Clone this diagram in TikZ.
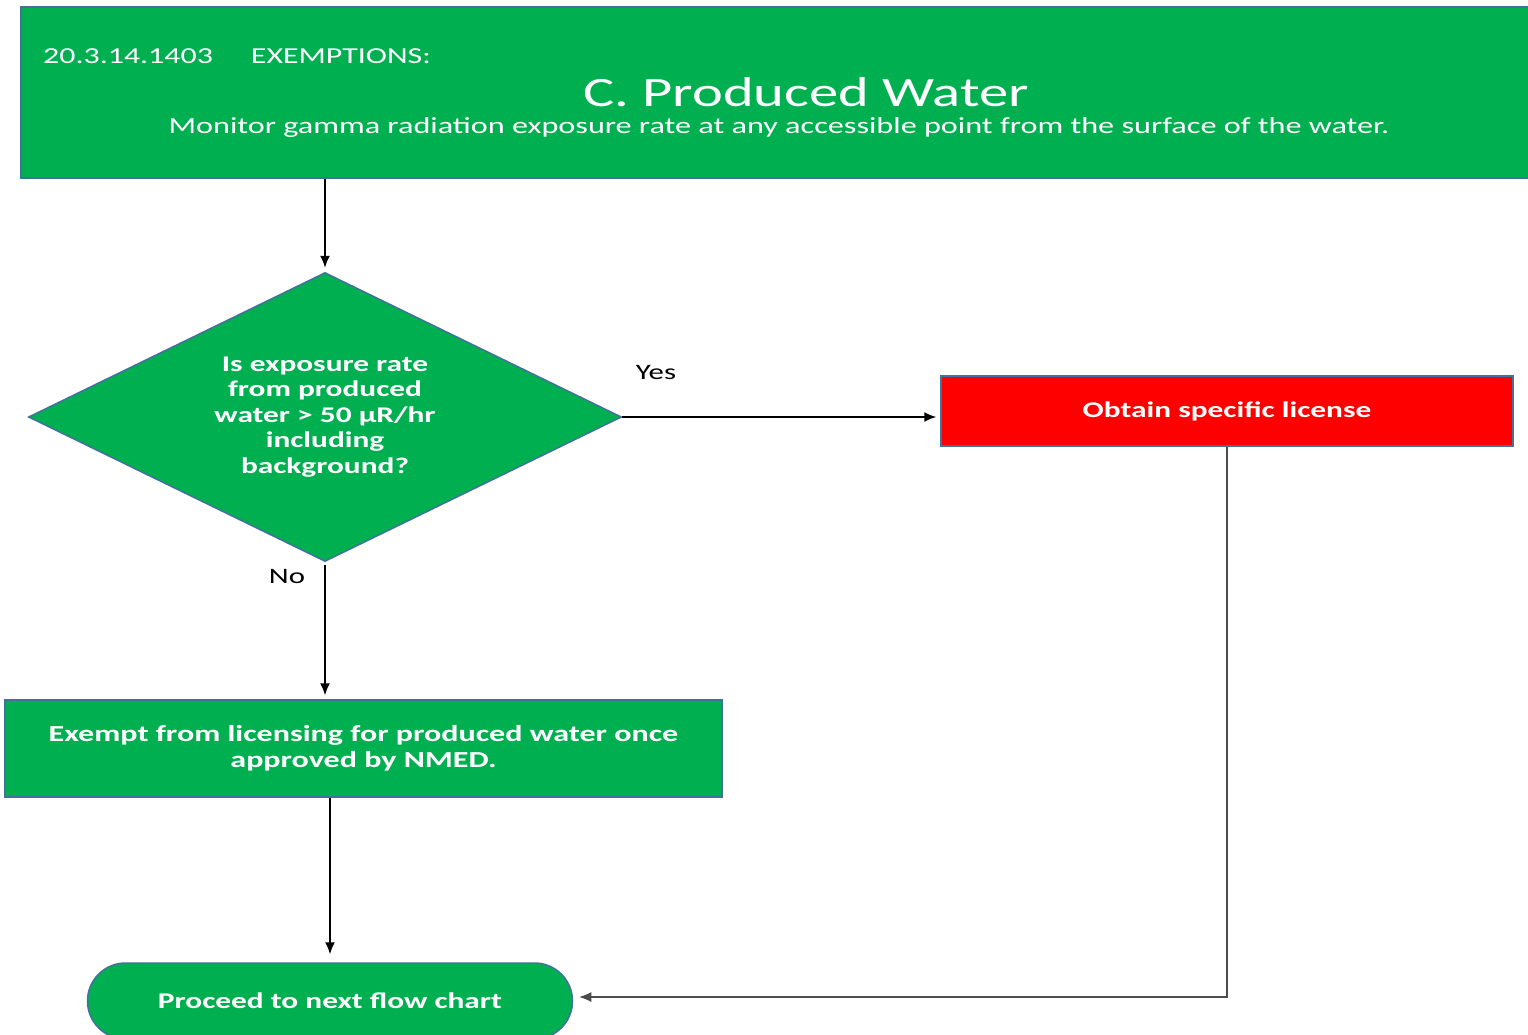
\documentclass[tikz,border=0pt]{standalone}
\usepackage{fontspec}
\setmainfont[FakeStretch=1.4]{Carlito}
\usetikzlibrary{shapes.geometric,arrows.meta}
\definecolor{gfill}{HTML}{00B050}
\definecolor{rfill}{HTML}{FF0000}
\definecolor{bord}{HTML}{41719C}
\tikzset{
  box/.style={draw=bord, line width=1.5pt, inner sep=0pt, align=center, text=white},
  greenbox/.style={box, fill=gfill},
  redbox/.style={box, fill=rfill},
  arr/.style={draw=black, line width=1.6pt, -{Latex[length=12pt,width=10pt]}},
  lbl/.style={text=black, font=\fontsize{22}{26}\selectfont}
}
\begin{document}
\begin{tikzpicture}[x=1pt,y=-1pt]
\useasboundingbox (0,0) rectangle (1528,1034);
\clip (0,0) rectangle (1528,1034);
\fill[white] (0,0) rectangle (1528,1034);
% header
\node[greenbox, anchor=north west, minimum width=1530pt, minimum height=171pt] (hdr) at (20,6) {};
\node[text=white, anchor=west, inner sep=0pt, font=\fontsize{22.8}{26}\selectfont] (code) at (43,56) {20.3.14.1403\hspace{38pt}EXEMPTIONS:};
\node[text=white, inner sep=0pt, font=\fontsize{41.8}{48}\selectfont] (title) at (806,92) {C. Produced Water};
\node[text=white, inner sep=0pt, font=\fontsize{23}{27}\selectfont] (sub) at (779,127) {Monitor gamma radiation exposure rate at any accessible point from the surface of the water.};
% decision
\node[greenbox, diamond, aspect=2.05, minimum width=593pt, minimum height=289pt, font=\bfseries\fontsize{22.4}{25.5}\selectfont] (dia) at (325,417)
  {Is exposure rate\\from produced\\water > 50 µR/hr\\including\\background?};
% license
\node[redbox, minimum width=572pt, minimum height=70pt, font=\bfseries\fontsize{22.4}{26}\selectfont] (lic) at (1227,411) {Obtain specific license};
% exempt
\node[greenbox, minimum width=717pt, minimum height=97pt, font=\bfseries\fontsize{22.9}{26}\selectfont] (ex) at (363.5,748.5) {Exempt from licensing for produced water once\\approved by NMED.};
% terminal
\node[greenbox, minimum width=485pt, minimum height=76pt, rounded corners=38pt, font=\bfseries\fontsize{22.4}{26}\selectfont] (term) at (330,1001) {Proceed to next flow chart};
% connectors
\draw[arr, shorten >=4pt] (dia.north |- hdr.south) -- (dia.north);
\draw[arr, shorten >=4pt] (dia.east) -- (dia.east -| lic.west);
\draw[arr, shorten <=3pt, shorten >=4pt] (dia.south) -- (ex.north -| dia.south);
\draw[arr, shorten >=8pt] (term.north |- ex.south) -- (term.north);
\draw[arr, line width=1.1pt, draw=black!70, shorten >=6pt] (lic.south) |- ([yshift=4pt]term.east);
% labels
\node[lbl] (yes) at (656,373) {Yes};
\node[lbl] (no) at (287,577) {No};
\end{tikzpicture}
\end{document}
